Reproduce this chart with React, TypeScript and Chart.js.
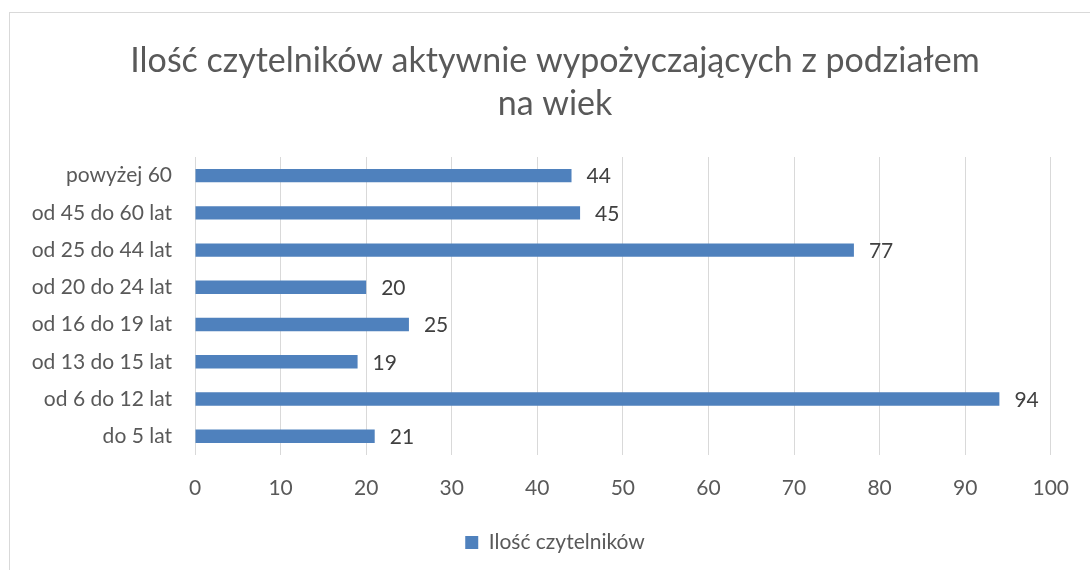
import React, { useEffect, useRef } from "react";
import { Chart, registerables } from "chart.js";

Chart.register(...registerables);

const TITLE_LINES = ["Ilość czytelników aktywnie wypożyczających z podziałem", "na wiek"];
const CATEGORIES = [
  "powyżej 60",
  "od 45 do 60 lat",
  "od 25 do 44 lat",
  "od 20 do 24 lat",
  "od 16 do 19 lat",
  "od 13 do 15 lat",
  "od 6 do 12 lat",
  "do 5 lat",
];
const SERIES_NAME = "Ilość czytelników";
const VALUES = [44, 45, 77, 20, 25, 19, 94, 21];
const X_MIN = 0;
const X_MAX = 100;
const X_STEP = 10;

const FONT = "Lato, 'Open Sans', sans-serif";
const BAR_COLOR = "#4f81bd";
const TEXT_COLOR = "#595959";
const LABEL_COLOR = "#404040";
const GRID_COLOR = "#d9d9d9";

const valueLabels = {
  id: "valueLabels",
  afterDatasetsDraw(chart: any) {
    const ctx = chart.ctx;
    ctx.save();
    ctx.font = `21px ${FONT}`;
    ctx.fillStyle = LABEL_COLOR;
    ctx.textAlign = "left";
    ctx.textBaseline = "middle";
    chart.data.datasets.forEach((ds: any, i: number) => {
      const meta = chart.getDatasetMeta(i);
      meta.data.forEach((el: any, j: number) => {
        ctx.fillText(String(ds.data[j]), el.x + 15, el.y + 1);
      });
    });
    ctx.restore();
  },
};

export default function App() {
  const ref = useRef<HTMLCanvasElement | null>(null);
  useEffect(() => {
    if (!ref.current) return;
    const chart = new Chart(ref.current, {
      type: "bar",
      data: {
        labels: CATEGORIES,
        datasets: [
          {
            label: SERIES_NAME,
            data: VALUES,
            backgroundColor: BAR_COLOR,
            borderWidth: 0,
            categoryPercentage: 1,
            barPercentage: 0.36,
          },
        ],
      },
      options: {
        indexAxis: "y",
        animation: false,
        responsive: false,
        maintainAspectRatio: false,
        layout: { padding: { left: 20, right: 0, top: 0, bottom: 7 } },
        plugins: {
          title: {
            display: true,
            text: TITLE_LINES,
            color: TEXT_COLOR,
            font: { family: FONT, size: 34, weight: "normal", lineHeight: 1.265 },
            padding: { top: 40, bottom: 31 },
          },
          legend: {
            display: true,
            position: "bottom",
            labels: {
              color: TEXT_COLOR,
              font: { family: FONT, size: 21 },
              boxWidth: 13,
              boxHeight: 13,
              padding: 10,
            },
          },
          tooltip: { enabled: false },
        },
        scales: {
          x: {
            min: X_MIN,
            max: X_MAX,
            ticks: {
              stepSize: X_STEP,
              color: TEXT_COLOR,
              font: { family: FONT, size: 21 },
              padding: 21,
            },
            grid: { color: GRID_COLOR, lineWidth: 1, drawTicks: false },
            border: { display: false },
          },
          y: {
            ticks: {
              color: TEXT_COLOR,
              font: { family: FONT, size: 21 },
              padding: 23,
            },
            grid: { display: false, drawTicks: false },
            border: { display: false },
            afterFit: (scale: any) => {
              scale.width = 175;
            },
          },
          yRightSpace: {
            type: "category",
            position: "right",
            display: true,
            ticks: { display: false },
            grid: { display: false, drawTicks: false },
            border: { display: false },
            afterFit: (scale: any) => {
              scale.width = 34;
            },
          },
        },
      },
      plugins: [valueLabels],
    } as any);
    return () => chart.destroy();
  }, []);

  return (
    <div style={{ position: "fixed", left: 0, top: 0, width: 1090, height: 570, overflow: "hidden", background: "#fff" }}>
      <div
        style={{
          position: "absolute",
          left: 9,
          top: 12,
          width: 1200,
          height: 700,
          border: "1px solid #d9d9d9",
          boxSizing: "border-box",
        }}
      />
      <canvas ref={ref} width={1090} height={570} style={{ position: "absolute", left: 0, top: 0 }} />
    </div>
  );
}
